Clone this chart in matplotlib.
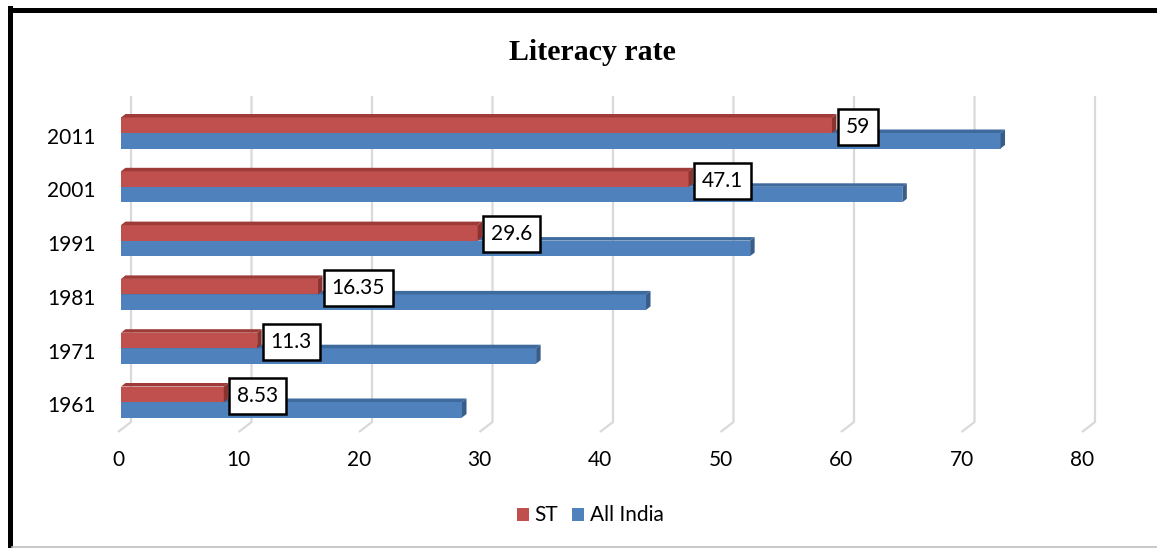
import matplotlib
matplotlib.use("Agg")
import matplotlib.pyplot as plt
from matplotlib.patches import Polygon, Rectangle
from matplotlib.lines import Line2D

years = ["1961", "1971", "1981", "1991", "2001", "2011"]
st = [8.53, 11.3, 16.35, 29.6, 47.1, 59]
all_india = [28.3, 34.45, 43.57, 52.21, 64.84, 72.99]
st_labels = ["8.53", "11.3", "16.35", "29.6", "47.1", "59"]
xticks = [0, 10, 20, 30, 40, 50, 60, 70, 80]

RED = "#C0504D"
RED_TOP = "#9E3B38"
RED_SIDE = "#8C3331"
BLUE = "#4F81BD"
BLUE_TOP = "#3F6A9E"
BLUE_SIDE = "#385D8A"
GRID = "#D9D9D9"
FONT = "Lato"

W, H = 1157, 548
fig = plt.figure(figsize=(W / 100, H / 100), dpi=100)

# axes in pixel geometry
ax_left, ax_right = 121, 1085
ax_top, ax_bot = 96, 432
ax = fig.add_axes([ax_left / W, (H - ax_bot) / H, (ax_right - ax_left) / W, (ax_bot - ax_top) / H])
px_per_x = (ax_right - ax_left) / 80.0
px_per_y = 53.8
y0_px = 402  # pixel y of boundary for category 0
ylo = (y0_px - ax_bot) / px_per_y
yhi = (y0_px - ax_top) / px_per_y
ax.set_xlim(0, 80)
ax.set_ylim(ylo, yhi)
ax.axis("off")

# 3D gridlines (back wall + floor diagonal)
front_shift = -3 / px_per_x
back_dx = 10 / px_per_x
back_bottom = (y0_px - 422) / px_per_y
for v in xticks:
    ax.plot([v + back_dx, v + back_dx, v + front_shift], [yhi, back_bottom, ylo], color=GRID,
            lw=1.6, zorder=1, solid_capstyle="butt", clip_on=False)

# bars with small 3D depth
h = 15.5 / px_per_y
ddx = 4.5 / px_per_x
ddy = 3.5 / px_per_y
x0 = 0.0


def bar3d(y_bottom, val, front, top, side, z):
    ax.barh(y_bottom, val - x0, height=h, left=x0, align="edge", color=front,
            edgecolor="none", zorder=z)
    ax.add_patch(Polygon([(x0, y_bottom + h), (val, y_bottom + h),
                          (val + ddx, y_bottom + h + ddy), (x0 + ddx, y_bottom + h + ddy)],
                         closed=True, facecolor=top, edgecolor="none", zorder=z))
    ax.add_patch(Polygon([(val, y_bottom), (val, y_bottom + h),
                          (val + ddx, y_bottom + h + ddy), (val + ddx, y_bottom + ddy)],
                         closed=True, facecolor=side, edgecolor="none", zorder=z))


for i in range(len(years)):
    bar3d(i - h, all_india[i], BLUE, BLUE_TOP, BLUE_SIDE, 3 + i * 0.01)
for i in range(len(years)):
    bar3d(i, st[i], RED, RED_TOP, RED_SIDE, 4 + i * 0.01)

# data labels
for i in range(len(years)):
    ax.annotate(st_labels[i], xy=(st[i] + ddx, i + h * 0.4), xytext=(6.5, 0),
                textcoords="offset points", ha="left", va="center",
                fontsize=15, family=FONT, color="black", zorder=10,
                bbox=dict(boxstyle="square,pad=0.38", facecolor="white",
                          edgecolor="black", linewidth=1.8))

# tick labels
for v in xticks:
    ax.text(v + front_shift, (y0_px - 466) / px_per_y, str(v), ha="center", va="baseline",
            fontsize=15, family=FONT, color="black", clip_on=False)
for i, yl in enumerate(years):
    ax.text(-25 / px_per_x, i - 10.5 / px_per_y, yl, ha="right", va="baseline",
            fontsize=15, family=FONT, color="black", clip_on=False)

# title
fig.text(592 / W, 1 - 52 / H, "Literacy rate", ha="center", va="center",
         fontsize=21.5, fontweight="bold", family="Liberation Serif")

# legend
leg_base = 1 - 521 / H
fig.patches.append(Rectangle((517 / W, 1 - 521 / H), 12 / W, 13 / H,
                             transform=fig.transFigure, facecolor=RED, edgecolor="none"))
fig.text(534 / W, leg_base, "ST", ha="left", va="baseline", fontsize=15, family=FONT)
fig.patches.append(Rectangle((572 / W, 1 - 521 / H), 12 / W, 13 / H,
                             transform=fig.transFigure, facecolor=BLUE, edgecolor="none"))
fig.text(590 / W, leg_base, "All India", ha="left", va="baseline", fontsize=15, family=FONT)

# frame lines
fig.add_artist(Line2D([9.5 / W, 1], [1 - 9.5 / H, 1 - 9.5 / H], transform=fig.transFigure,
                      color="black", lw=3.6))
fig.add_artist(Line2D([9.5 / W, 9.5 / W], [0, 1 - 7.5 / H], transform=fig.transFigure,
                      color="black", lw=3.6))
fig.add_artist(Line2D([12 / W, 1], [1.5 / H, 1.5 / H], transform=fig.transFigure,
                      color="#BFBFBF", lw=1.2))

fig.savefig("out.png", dpi=100, facecolor="white")
